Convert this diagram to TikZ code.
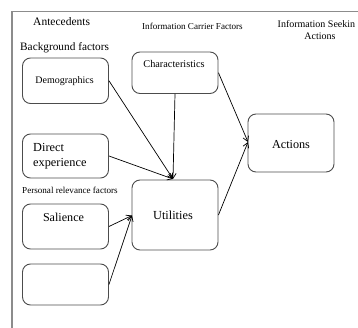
\documentclass[tikz,border=0pt]{standalone}
\usepackage{fontspec}
\setmainfont{Liberation Serif}
\usetikzlibrary{arrows.meta}
\definecolor{framegray}{gray}{0.55}
\definecolor{boxgray}{gray}{0.3}
\tikzset{
  rbox/.style={draw=boxgray, line width=0.9pt, rounded corners=8pt, minimum width=86pt, inner sep=0pt},
  lbl/.style={inner sep=0pt, text=black},
  conn/.style={draw=black, line width=0.7pt, -{Straight Barb[length=5pt,width=6pt]}},
}
\begin{document}
\begin{tikzpicture}[x=1pt,y=-1pt]
\path[use as bounding box] (0,0) rectangle (358,328);
% frame
\draw[framegray, line width=1.3pt] (12,330) -- (12,11.5) -- (360,11.5);
% headings
\node[lbl, anchor=base west, font=\fontsize{11.5}{13}\selectfont] (hant) at (33,26) {Antecedents};
\node[lbl, anchor=base west, font=\fontsize{9.1}{11}\selectfont] (hinf) at (142,29.5) {Information Carrier Factors};
\node[lbl, anchor=base west, font=\fontsize{10}{12}\selectfont] (hseek1) at (277.5,28) {Information Seekin};
\node[lbl, anchor=base, font=\fontsize{10}{12}\selectfont] (hseek2) at (320,40) {Actions};
\node[lbl, anchor=base west, font=\fontsize{11.3}{13}\selectfont] (hbg) at (20,51) {Background factors};
\node[lbl, anchor=base west, font=\fontsize{9.1}{11}\selectfont] (hpr) at (22,194) {Personal relevance factors};
% boxes
\node[rbox, minimum height=45.5pt] (demo) at (65.5,80.75) {};
\node[lbl, anchor=base, font=\fontsize{10}{12}\selectfont] (demot) at (64.5,83.5) {Demographics};
\node[rbox, minimum height=41.5pt] (char) at (175,72.75) {};
\node[lbl, anchor=base, font=\fontsize{10.3}{12}\selectfont] (chart) at (174,67.5) {Characteristics};
\node[rbox, minimum height=44pt] (dir) at (65.5,156) {};
\node[lbl, anchor=base west, font=\fontsize{12.3}{15}\selectfont] (dirt1) at (33,152) {Direct};
\node[lbl, anchor=base west, font=\fontsize{12.3}{15}\selectfont] (dirt2) at (33,167) {experience};
\node[rbox, minimum height=45pt] (sal) at (65.5,226.5) {};
\node[lbl, anchor=base, font=\fontsize{12.1}{15}\selectfont] (salt) at (63.5,222) {Salience};
\node[rbox, minimum height=41pt] (emp) at (65.5,284.5) {};
\node[rbox, minimum height=70pt] (util) at (175,215) {};
\node[lbl, anchor=base, font=\fontsize{12.3}{15}\selectfont] (utilt) at (173,219.5) {Utilities};
\node[rbox, minimum height=58pt] (act) at (291,143) {};
\node[lbl, anchor=base, font=\fontsize{12.2}{15}\selectfont] (actt) at (291,149) {Actions};
% connectors
\coordinate (utop) at (173,179);
\coordinate (uleft) at (132,215.5);
\coordinate (aleft) at (248,142);
\draw[conn] (demo.east) -- (utop);
\draw[conn] (char.south) -- (utop);
\draw[conn] (dir.east) -- (utop);
\draw[conn] (sal.east) -- (uleft);
\draw[conn] (emp.east) -- (uleft);
\draw[conn] (char.east) -- (aleft);
\draw[conn] (util.east) -- (aleft);
\end{tikzpicture}
\end{document}
